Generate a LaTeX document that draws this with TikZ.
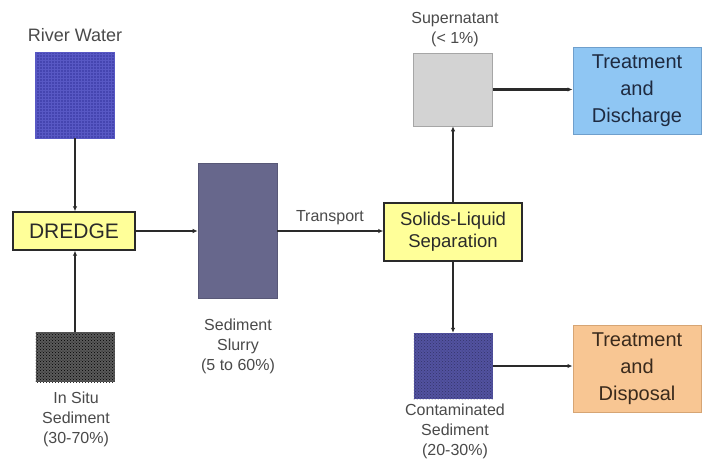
\documentclass[tikz,border=0pt]{standalone}
\usepackage{fontspec}
\setmainfont{Liberation Sans}
\usetikzlibrary{arrows.meta,patterns}

\definecolor{linegray}{HTML}{2A2A2A}
\definecolor{labelgray}{HTML}{4A4A4A}
\definecolor{waterblue}{HTML}{4545B0}
\definecolor{waterline}{HTML}{5858C4}
\definecolor{insitufill}{HTML}{5A5A5A}
\definecolor{slurryfill}{HTML}{67678C}
\definecolor{superfill}{HTML}{D3D3D3}
\definecolor{contfill}{HTML}{5252A0}
\definecolor{contdots}{HTML}{34346A}
\definecolor{procyellow}{HTML}{FFFF99}
\definecolor{dischblue}{HTML}{8FC6F3}
\definecolor{dischedge}{HTML}{6F9FCC}
\definecolor{dispfill}{HTML}{F8C693}
\definecolor{dispedge}{HTML}{D6A574}
\definecolor{navytext}{HTML}{1E2A40}
\definecolor{browntext}{HTML}{3A2A1C}

\tikzset{
  box/.style={rectangle, inner sep=0pt, anchor=center},
  procbox/.style={box, fill=procyellow, draw=linegray, line width=1.4pt,
    text=linegray, align=center},
  endbox/.style={box, line width=1pt, align=center,
    font=\fontsize{20}{27}\selectfont},
  lbl/.style={text=labelgray, align=center, inner sep=0pt,
    font=\fontsize{16}{20}\selectfont},
  flow/.style={draw=linegray, line width=2.1pt,
    -{Latex[length=5pt,width=4.5pt]}},
}

\begin{document}
\begin{tikzpicture}[x=1pt,y=-1pt]
  \useasboundingbox (0,0) rectangle (702,459);
  \fill[white] (0,0) rectangle (702,459);

  % material boxes
  \node[box, minimum width=79pt, minimum height=86pt, fill=waterblue,
        draw=waterline, line width=0.6pt,
        postaction={pattern=grid, pattern color=waterline}] (river) at (75,95) {};
  \node[box, minimum width=79pt, minimum height=50pt, fill=insitufill,
        postaction={pattern=crosshatch dots, pattern color=black}] (insitu) at (75,357) {};
  \node[box, minimum width=79pt, minimum height=135pt, fill=slurryfill,
        draw=slurryfill!85!black, line width=0.6pt] (slurry) at (237.5,230.5) {};
  \node[box, minimum width=79pt, minimum height=73pt, fill=superfill,
        draw=gray!70, line width=0.6pt] (super) at (453,89.5) {};
  \node[box, minimum width=79pt, minimum height=66pt, fill=contfill,
        postaction={pattern=crosshatch dots, pattern color=contdots}] (cont) at (453,366) {};

  % process boxes
  \node[procbox, minimum width=122pt, minimum height=38pt,
        font=\fontsize{21}{24}\selectfont] (dredge) at (74,231) {DREDGE};
  \node[procbox, minimum width=138pt, minimum height=58pt,
        font=\fontsize{18.5}{22}\selectfont] (sls) at (453,232)
        {Solids-Liquid\\Separation};

  % end-of-line treatment boxes
  \node[endbox, minimum width=128pt, minimum height=87pt, fill=dischblue,
        draw=dischedge, text=navytext] (disch) at (637,91)
        {Treatment\\and\\Discharge};
  \node[endbox, minimum width=128pt, minimum height=87pt, fill=dispfill,
        draw=dispedge, text=browntext] (disp) at (637,369)
        {Treatment\\and\\Disposal};

  % labels
  \node[lbl, font=\fontsize{18}{20}\selectfont] (riverlbl) at (75,35) {River Water};
  \node[lbl, anchor=north] (insitulbl) at (76,392) {In Situ\\Sediment\\(30-70\%)};
  \node[lbl, anchor=north] (slurrylbl) at (238,319) {Sediment\\Slurry\\(5 to 60\%)};
  \node[lbl, anchor=north] (superlbl) at (455,12) {Supernatant\\(< 1\%)};
  \node[lbl, anchor=north] (contlbl) at (455,404) {Contaminated\\Sediment\\(20-30\%)};
  \node[lbl] (translbl) at (330,218) {Transport};

  % flows
  \draw[flow] (river.south) -- (dredge.north -| river.south);
  \draw[flow] (insitu.north) -- (dredge.south -| insitu.north);
  \draw[flow] (dredge.east) -- (dredge.east -| slurry.west);
  \draw[flow] (slurry.east |- dredge.east) -- (sls.west |- dredge.east);
  \draw[flow] (sls.north) -- (super.south);
  \draw[flow] (sls.south) -- (cont.north);
  \draw[flow] (super.east) -- (super.east -| disch.west);
  \draw[flow] (cont.east) -- (cont.east -| disp.west);
\end{tikzpicture}
\end{document}
